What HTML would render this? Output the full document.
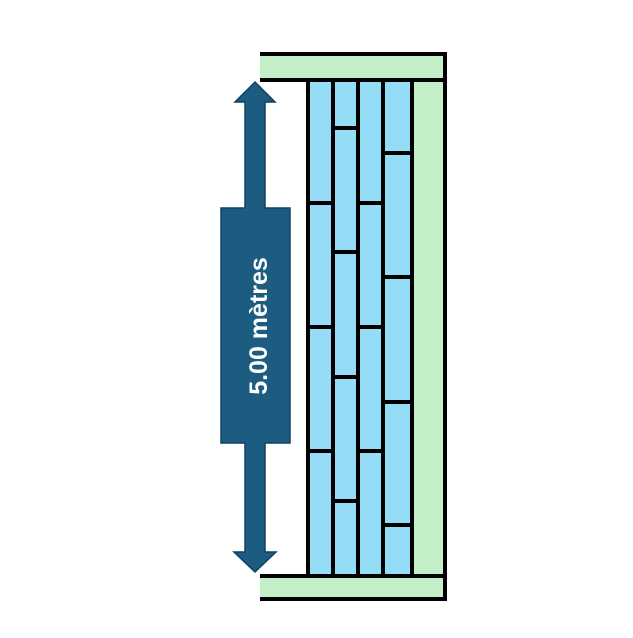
<!DOCTYPE html>
<html><head><style>body{margin:0;background:#fff}</style></head><body>
<svg width="633" height="633" viewBox="0 0 633 633" xmlns="http://www.w3.org/2000/svg">
<rect width="633" height="633" fill="#fff"/>
<rect x="260" y="54" width="184" height="26" fill="#c3f0c8"/>
<rect x="260" y="576" width="184" height="23" fill="#c3f0c8"/>
<rect x="412" y="80" width="32" height="496" fill="#c3f0c8"/>
<rect x="308" y="80" width="104" height="496" fill="#95dcf6"/>
<g stroke="#000" stroke-width="4" fill="none">
<line x1="260" y1="54" x2="446" y2="54"/>
<line x1="260" y1="80" x2="446" y2="80"/>
<line x1="260" y1="576" x2="446" y2="576"/>
<line x1="260" y1="599" x2="446" y2="599"/>
<line x1="445" y1="52" x2="445" y2="601"/>
<line x1="308" y1="80" x2="308" y2="576"/>
<line x1="333" y1="80" x2="333" y2="576"/>
<line x1="358" y1="80" x2="358" y2="576"/>
<line x1="383" y1="80" x2="383" y2="576"/>
<line x1="412" y1="80" x2="412" y2="576"/>
<line x1="308" y1="203" x2="333" y2="203"/>
<line x1="308" y1="327" x2="333" y2="327"/>
<line x1="308" y1="451" x2="333" y2="451"/>
<line x1="333" y1="128" x2="358" y2="128"/>
<line x1="333" y1="252" x2="358" y2="252"/>
<line x1="333" y1="377" x2="358" y2="377"/>
<line x1="333" y1="501" x2="358" y2="501"/>
<line x1="358" y1="203" x2="383" y2="203"/>
<line x1="358" y1="327" x2="383" y2="327"/>
<line x1="358" y1="451" x2="383" y2="451"/>
<line x1="383" y1="153" x2="412" y2="153"/>
<line x1="383" y1="277" x2="412" y2="277"/>
<line x1="383" y1="402" x2="412" y2="402"/>
<line x1="383" y1="525" x2="412" y2="525"/>
</g>
<g fill="#1b5c80" stroke="#0f4260" stroke-width="1.5">
<path d="M255,82 L275,102 L265,102 L265,208 L290,208 L290,443 L265,443 L265,552 L276,552 L255,572 L234,552 L245,552 L245,443 L221,443 L221,208 L245,208 L245,102 L235,102 Z"/>
</g>
<text x="0" y="0" transform="translate(267,326) rotate(-90)" text-anchor="middle" font-family="Liberation Sans, sans-serif" font-weight="bold" font-size="25" fill="#fff">5.00 mètres</text>
</svg>
</body></html>
